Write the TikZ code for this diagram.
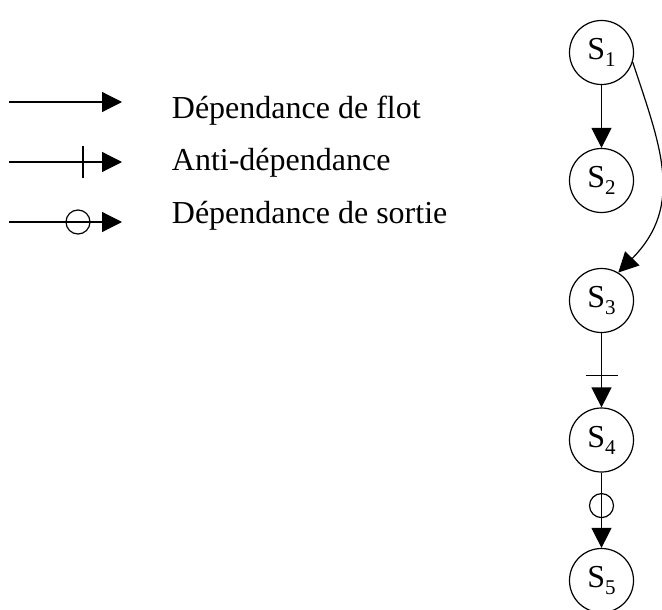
\documentclass[tikz,border=0pt]{standalone}
\usepackage{fontspec}
\setmainfont{Liberation Serif}
\usetikzlibrary{arrows.meta,positioning,decorations.markings}
\newcommand{\instr}[1]{S\raisebox{-7pt}{\fontsize{21}{21}\selectfont #1}}
\tikzset{
  flot/.style={},
  anti/.style={postaction={decorate},
    decoration={markings, mark=at position #1 with {\draw[-] (0,-16pt) -- (0,16pt);}}},
  sortie/.style={postaction={decorate},
    decoration={markings, mark=at position #1 with {\draw[-] (0,0) circle (12pt);}}}
}
\begin{document}
\begin{tikzpicture}[->, >={Triangle[length=20pt,width=20pt]}, line width=1.2pt, x=1pt, y=-1pt,
    every node/.style={font=\fontsize{32}{38}\selectfont}]
    \useasboundingbox (0,0) rectangle (662,610);
    % graphe
    \node [draw, circle, minimum size=64pt, inner sep=0pt] (s1) at (601.5,52.5) {\instr{1}};
    \node [draw, circle, minimum size=64pt, inner sep=0pt, below of = s1, node distance=128pt] (s2) {\instr{2}};
    \node [draw, circle, minimum size=64pt, inner sep=0pt, below of = s2, node distance=120pt] (s3) {\instr{3}};
    \node [draw, circle, minimum size=64pt, inner sep=0pt, below of = s3, node distance=139.5pt] (s4) {\instr{4}};
    \node [draw, circle, minimum size=64pt, inner sep=0pt, below of = s4, node distance=140.5pt] (s5) {\instr{5}};

    \path
        (s1) edge[flot] (s2)
        (s3) edge[anti=42pt] (s4)
        (s4) edge[sortie=33pt] (s5);
    \draw (s1.-17) .. controls (660,145) and (685,205) .. (s3.59);

    % legende
    \coordinate (f0) at (9,102);   \coordinate (f1) at (122,102);
    \coordinate (a0) at (9,162);   \coordinate (a1) at (122,162);
    \coordinate (o0) at (9,222);   \coordinate (o1) at (122,222);
    \draw[flot] (f0) -- (f1);
    \draw[anti=74pt] (a0) -- (a1);
    \draw[sortie=69pt] (o0) -- (o1);
    \node [anchor=base west] (tf) at (168,118) {Dépendance de flot};
    \node [anchor=base west] (ta) at (168,170) {Anti-dépendance};
    \node [anchor=base west] (to) at (168,223) {Dépendance de sortie};
\end{tikzpicture}
\end{document}
